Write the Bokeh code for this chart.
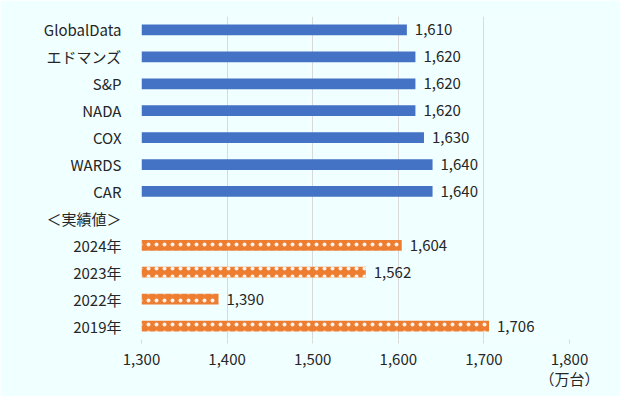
from bokeh.plotting import figure
from bokeh.models import (ColumnDataSource, FactorRange, LinearAxis, FixedTicker,
                          NumeralTickFormatter, Range1d, LabelSet)
from bokeh.core.properties import value
from bokeh.embed import file_html
from bokeh.resources import INLINE

categories = ["GlobalData", "エドマンズ", "S&P", "NADA", "COX", "WARDS", "CAR",
              "＜実績値＞", "2024年", "2023年", "2022年", "2019年"]
forecast_names = ["GlobalData", "エドマンズ", "S&P", "NADA", "COX", "WARDS", "CAR"]
forecast_values = [1610, 1620, 1620, 1620, 1630, 1640, 1640]
actual_names = ["2024年", "2023年", "2022年", "2019年"]
actual_values = [1604, 1562, 1390, 1706]
x_ticks = [1300, 1400, 1500, 1600, 1700, 1800]
unit_label = "（万台）"

FONT = "Noto Sans CJK JP"
FS = "15px"
TXT = "#262626"
BG = "#F0FFFF"

fsrc = ColumnDataSource(dict(y=forecast_names, x=forecast_values,
                             lab=[f"{v:,}" for v in forecast_values]))
asrc = ColumnDataSource(dict(y=actual_names, x=actual_values,
                             lab=[f"{v:,}" for v in actual_values]))

p = figure(width=620, height=396, output_backend="svg", toolbar_location=None,
           y_range=FactorRange(*reversed(categories), range_padding=0),
           x_range=Range1d(1300, 1800),
           min_border_left=141, min_border_right=51, min_border_top=16, min_border_bottom=57)
p.background_fill_color = BG
p.border_fill_color = BG
p.outline_line_color = None

p.hbar(y="y", left=1300, right="x", height=0.4, source=fsrc,
       fill_color="#4472C4", line_color=None)
p.hbar(y="y", left=1300, right="x", height=0.4, source=asrc,
       fill_color="#ED7D31", line_color=None,
       hatch_pattern="dot", hatch_color="white", hatch_scale=8, hatch_weight=0.5,
       hatch_alpha=0.9)

for src in (fsrc, asrc):
    p.add_layout(LabelSet(x="x", y="y", text="lab", source=src, x_offset=8,
                          text_baseline="middle", text_font=value(FONT),
                          text_font_size=value(FS), text_color=TXT))

# axes
xa = p.xaxis[0]
xa.ticker = FixedTicker(ticks=x_ticks)
xa.formatter = NumeralTickFormatter(format="0,0")
xa.axis_line_color = None
xa.major_tick_line_color = "#D9D9D9"
xa.major_tick_out = 4
xa.major_tick_in = 0
xa.minor_tick_line_color = None
xa.major_label_text_font = FONT
xa.major_label_text_font_size = FS
xa.major_label_text_color = TXT
xa.major_label_standoff = 10

ua = LinearAxis(ticker=FixedTicker(ticks=[x_ticks[-1]]),
                major_label_overrides={x_ticks[-1]: unit_label})
ua.axis_line_color = None
ua.major_tick_line_color = None
ua.minor_tick_line_color = None
ua.major_tick_out = 0
ua.major_tick_in = 0
ua.major_label_text_font = FONT
ua.major_label_text_font_size = FS
ua.major_label_text_color = TXT
ua.major_label_standoff = 0
p.add_layout(ua, "below")

ya = p.yaxis[0]
ya.axis_line_color = None
ya.major_tick_line_color = None
ya.minor_tick_line_color = None
ya.major_label_text_font = FONT
ya.major_label_text_font_size = FS
ya.major_label_text_color = TXT
ya.major_label_standoff = 14

p.ygrid.grid_line_color = None
p.xgrid.grid_line_color = "#D9D9D9"
p.xgrid.ticker = FixedTicker(ticks=x_ticks)

open("out.html", "w").write(file_html(p, INLINE))
